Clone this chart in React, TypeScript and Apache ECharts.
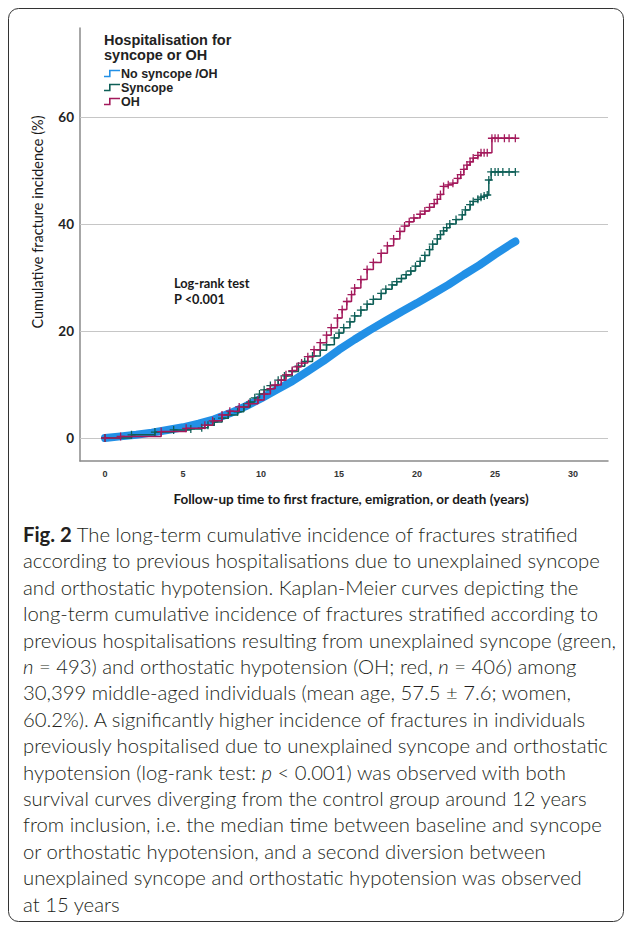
import React, { useEffect, useRef } from "react";
import * as echarts from "echarts";

// ---- data ----
const xTicks = [0, 5, 10, 15, 20, 25, 30];
const yTicks = [0, 20, 40, 60];

const seriesNames = ["No syncope /OH", "Syncope", "OH"];

const noSyncopeT = [0, 1, 2, 3, 4, 5, 6, 7, 8, 9, 10, 11, 12, 13, 14, 15, 16, 17, 18, 19, 20, 21, 22, 23, 24, 25, 26, 26.3];
const noSyncopeV = [0, 0.3, 0.6, 1.0, 1.5, 2.0, 2.7, 3.5, 4.6, 5.9, 7.4, 9.0, 10.6, 12.5, 14.4, 16.5, 18.4, 20.2, 21.9, 23.6, 25.2, 26.9, 28.6, 30.5, 32.3, 34.3, 36.2, 36.7];

const syncopeT = [0, 1.7, 3.2, 4.4, 5.5, 6.2, 6.6, 7.0, 7.5, 7.9, 8.5, 8.9, 9.3, 9.6, 9.9, 10.2, 10.6, 11.1, 11.5, 12.0, 12.4, 12.8, 13.3, 13.8, 14.2, 14.7, 15.0, 15.3, 15.7, 16.0, 16.4, 16.8, 17.2, 17.7, 18.0, 18.4, 18.7, 19.0, 19.3, 19.6, 19.9, 20.2, 20.5, 20.8, 21.0, 21.3, 21.5, 21.7, 21.9, 22.1, 22.5, 22.9, 23.1, 23.4, 23.6, 23.9, 24.1, 24.3, 24.5, 24.6, 24.75, 25.0, 25.2, 25.5, 25.9, 26.3];
const syncopeV = [0, 0.6, 1.1, 1.5, 1.7, 1.9, 2.4, 3.0, 3.7, 4.3, 4.9, 5.8, 6.7, 7.5, 8.2, 9.0, 9.8, 10.8, 11.6, 12.4, 13.4, 14.3, 15.3, 16.4, 17.4, 18.7, 19.6, 20.6, 21.7, 22.8, 23.9, 25.0, 25.9, 27.0, 27.8, 28.6, 29.2, 29.8, 30.5, 31.2, 32.1, 33.0, 34.1, 35.2, 36.2, 37.2, 38.0, 38.7, 39.3, 40.0, 40.8, 41.7, 42.6, 43.6, 44.2, 44.6, 45.0, 45.2, 45.4, 48.2, 49.7, 49.7, 49.7, 49.7, 49.7, 49.7];

const ohT = [0, 1.0, 3.6, 5.2, 6.4, 6.9, 7.5, 8.0, 8.6, 9.2, 9.8, 10.2, 10.6, 10.9, 11.3, 11.6, 12.0, 12.3, 12.6, 13.0, 13.4, 13.8, 14.2, 14.5, 14.9, 15.2, 15.5, 15.8, 16.0, 16.4, 16.8, 17.2, 17.7, 18.1, 18.5, 18.9, 19.2, 19.5, 19.8, 20.2, 20.5, 20.8, 21.1, 21.3, 21.5, 21.7, 22.0, 22.3, 22.6, 22.8, 23.0, 23.2, 23.4, 23.6, 23.9, 24.1, 24.3, 24.5, 24.8, 25.0, 25.2, 25.6, 25.9, 26.3];
const ohV = [0, 0.3, 1.2, 1.8, 2.4, 3.2, 4.3, 5.0, 5.8, 6.4, 7.1, 8.2, 9.2, 9.9, 10.8, 11.8, 12.6, 13.3, 14.0, 15.2, 16.5, 17.8, 19.2, 20.6, 22.4, 24.0, 25.5, 26.8, 28.0, 29.6, 31.5, 32.8, 34.5, 35.9, 37.2, 38.6, 39.6, 40.4, 41.1, 41.8, 42.4, 43.1, 43.8, 44.6, 45.5, 47.0, 47.3, 47.6, 48.5, 49.2, 50.2, 51.0, 51.6, 52.3, 52.8, 53.3, 53.3, 53.3, 56.0, 56.0, 56.0, 56.0, 56.0, 56.0];

const captionLines = [
  "{b|Fig. 2} The long-term cumulative incidence of fractures stratified",
  "according to previous hospitalisations due to unexplained syncope",
  "and orthostatic hypotension. Kaplan-Meier curves depicting the",
  "long-term cumulative incidence of fractures stratified according to",
  "previous hospitalisations resulting from unexplained syncope (green,",
  "{i|n} = 493) and orthostatic hypotension (OH; red, {i|n} = 406) among",
  "30,399 middle-aged individuals (mean age, 57.5 ± 7.6; women,",
  "60.2%). A significantly higher incidence of fractures in individuals",
  "previously hospitalised due to unexplained syncope and orthostatic",
  "hypotension (log-rank test: {i|p} < 0.001) was observed with both",
  "survival curves diverging from the control group around 12 years",
  "from inclusion, i.e. the median time between baseline and syncope",
  "or orthostatic hypotension, and a second diversion between",
  "unexplained syncope and orthostatic hypotension was observed",
  "at 15 years",
];

const zip = (t: number[], v: number[]) => t.map((x, i) => [x, v[i]]);

const plusSymbol = "path://M4.2,0 L5.8,0 L5.8,4.2 L10,4.2 L10,5.8 L5.8,5.8 L5.8,10 L4.2,10 L4.2,5.8 L0,5.8 L0,4.2 L4.2,4.2 Z";
const stepIcon = "path://M0,6 L5,6 L5,0 L16,0 L16,1.6 L6.6,1.6 L6.6,7.6 L0,7.6 Z";

const BLUE = "#2290e6";
const GREEN = "#0e5f57";
const RED = "#a3195b";
const CAPTION_FONT = "Lato, sans-serif";
const CAPTION_SIZE = 20.3;

export default function App() {
  const ref = useRef<HTMLDivElement>(null);
  useEffect(() => {
    if (!ref.current) return;
    const chart = echarts.init(ref.current, null, { renderer: "svg" });
    const captionTop = 534;
    const captionStep = 26.4;
    const option: any = {
      animation: false,
      backgroundColor: "#ffffff",
      title: {
        text: "Hospitalisation for\nsyncope or OH",
        left: 104,
        top: 32,
        padding: 0,
        textStyle: {
          fontFamily: "Liberation Sans, Arial, sans-serif",
          fontWeight: "bold",
          fontSize: 14.5,
          lineHeight: 15,
          color: "#222",
        },
      },
      legend: {
        orient: "vertical",
        left: 104,
        top: 67,
        padding: 0,
        itemWidth: 16,
        itemHeight: 8,
        itemGap: 1,
        textStyle: {
          fontFamily: "Liberation Sans, Arial, sans-serif",
          fontWeight: "bold",
          fontSize: 12.5,
          color: "#222",
          padding: [0, 0, 0, -4],
        },
        data: seriesNames.map((n) => ({ name: n, icon: stepIcon })),
      },
      grid: { left: 80, right: 19, top: 28, bottom: 464 },
      xAxis: {
        type: "value",
        min: -1.603,
        max: 32.24,
        axisLine: { show: true, onZero: false, lineStyle: { color: "#8a8a8a", width: 1.5 } },
        axisTick: { show: false },
        splitLine: { show: false },
        axisLabel: {
          customValues: xTicks,
          fontFamily: "Liberation Sans, Arial, sans-serif",
          fontWeight: "bold",
          fontSize: 9,
          color: "#333",
          margin: 8,
        },
      },
      yAxis: {
        type: "value",
        min: -4.3,
        max: 76.6,
        axisLine: { show: true, onZero: false, lineStyle: { color: "#8a8a8a", width: 1.5 } },
        axisTick: { show: false },
        splitLine: { show: false },
        axisLabel: {
          customValues: yTicks,
          fontFamily: "Lato, sans-serif",
          fontWeight: "bold",
          fontSize: 13.5,
          color: "#222",
          margin: 6,
        },
      },
      series: [
        {
          name: seriesNames[0],
          type: "line",
          data: zip(noSyncopeT, noSyncopeV),
          showSymbol: false,
          color: BLUE,
          lineStyle: { width: 8, color: BLUE, cap: "round", join: "round" },
          z: 3,
          markLine: {
            silent: true,
            symbol: "none",
            z: 1,
            label: { show: false },
            lineStyle: { color: "#c6c6c6", width: 1.2, type: "solid" },
            data: yTicks.map((v) => ({ yAxis: v })),
          },
        },
        {
          name: seriesNames[1],
          type: "line",
          step: "end",
          data: zip(syncopeT, syncopeV),
          symbol: plusSymbol,
          symbolSize: 8,
          showSymbol: true,
          color: GREEN,
          itemStyle: { color: GREEN },
          lineStyle: { width: 1.5, color: GREEN },
          z: 4,
        },
        {
          name: seriesNames[2],
          type: "line",
          step: "end",
          data: zip(ohT, ohV),
          symbol: plusSymbol,
          symbolSize: 8,
          showSymbol: true,
          color: RED,
          itemStyle: { color: RED },
          lineStyle: { width: 1.5, color: RED },
          z: 5,
        },
      ],
      graphic: [
        {
          type: "rect",
          z: -10,
          silent: true,
          shape: { x: 8.5, y: 8.5, width: 615, height: 913, r: 10 },
          style: { fill: "none", stroke: "#333", lineWidth: 1 },
        },
        {
          type: "text",
          x: 37,
          y: 222,
          rotation: Math.PI / 2,
          style: {
            text: "Cumulative fracture incidence (%)",
            fontFamily: "Lato, sans-serif",
            fontSize: 14.5,
            fill: "#1a1a1a",
            align: "center",
            verticalAlign: "middle",
          },
        },
        {
          type: "text",
          x: 351,
          y: 499,
          style: {
            text: "Follow-up time to first fracture, emigration, or death (years)",
            fontFamily: "Lato, sans-serif",
            fontWeight: "bold",
            fontSize: 13.5,
            fill: "#1a1a1a",
            align: "center",
            verticalAlign: "middle",
          },
        },
        {
          type: "text",
          x: 174,
          y: 283,
          style: {
            text: "Log-rank test",
            fontFamily: "Lato, sans-serif",
            fontWeight: "bold",
            fontSize: 12.8,
            fill: "#1a1a1a",
            verticalAlign: "middle",
          },
        },
        {
          type: "text",
          x: 174,
          y: 299,
          style: {
            text: "P <0.001",
            fontFamily: "Lato, sans-serif",
            fontWeight: "bold",
            fontSize: 12.8,
            fill: "#1a1a1a",
            verticalAlign: "middle",
          },
        },
        ...captionLines.map((line, i) => ({
          type: "text",
          x: 23,
          y: captionTop + i * captionStep,
          style: {
            text: line,
            fontFamily: CAPTION_FONT,
            fontWeight: 300,
            fontSize: CAPTION_SIZE,
            fill: "#231f20",
            verticalAlign: "middle",
            rich: {
              b: { fontFamily: CAPTION_FONT, fontWeight: "bold", fontSize: CAPTION_SIZE, fill: "#231f20" },
              i: { fontFamily: CAPTION_FONT, fontWeight: 300, fontStyle: "italic", fontSize: CAPTION_SIZE, fill: "#231f20" },
            },
          },
        })),
      ],
    };
    chart.setOption(option);
    return () => chart.dispose();
  }, []);
  return (
    <div
      ref={ref}
      style={{ position: "fixed", left: 0, top: 0, width: 627, height: 925, background: "#fff" }}
    />
  );
}
